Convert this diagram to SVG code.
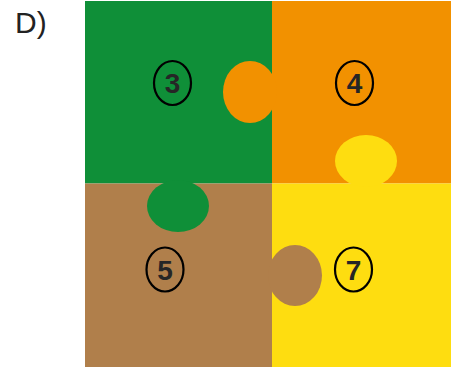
<svg xmlns="http://www.w3.org/2000/svg" width="451" height="369" viewBox="0 0 451 369">
<style>
.num{font-family:"Liberation Sans",Arial,sans-serif;font-weight:bold;font-size:28px;fill:#262626;text-anchor:middle}
.ring{fill:none;stroke:#000;stroke-width:2.2}
</style>
<rect width="451" height="369" fill="#fff"/>
<text x="15" y="33" font-family="Liberation Sans,Arial,sans-serif" font-size="30" fill="#222">D)</text>
<g id="piece3"><rect x="85" y="1" width="187" height="182.5" fill="#0f8f38"/></g>
<g id="piece4"><rect x="272" y="1" width="179" height="182.5" fill="#f29100"/></g>
<g id="piece5"><rect x="85" y="183.5" width="187" height="183.5" fill="#b07f4b"/></g>
<g id="piece7"><rect x="272" y="183.5" width="179" height="183.5" fill="#fedd10"/></g>
<g id="tabs">
<ellipse cx="250" cy="92" rx="27" ry="31" fill="#f29100"/>
<ellipse cx="366" cy="161" rx="31" ry="26" fill="#fedd10"/>
<ellipse cx="178" cy="206" rx="31" ry="26" fill="#0f8f38"/>
<ellipse cx="295" cy="275.5" rx="27" ry="30.5" fill="#b07f4b"/>
</g>
<g id="label3"><ellipse class="ring" cx="172.5" cy="83" rx="18.5" ry="22"/><text class="num" x="172.5" y="93">3</text></g>
<g id="label4"><ellipse class="ring" cx="354.5" cy="83" rx="18.5" ry="22"/><text class="num" x="354.5" y="93">4</text></g>
<g id="label5"><ellipse class="ring" cx="165" cy="269.5" rx="18.5" ry="22"/><text class="num" x="165" y="279.5">5</text></g>
<g id="label7"><ellipse class="ring" cx="353.5" cy="269.5" rx="18.5" ry="22"/><text class="num" x="353.5" y="279.5">7</text></g>
<g id="connectors"></g>
</svg>
